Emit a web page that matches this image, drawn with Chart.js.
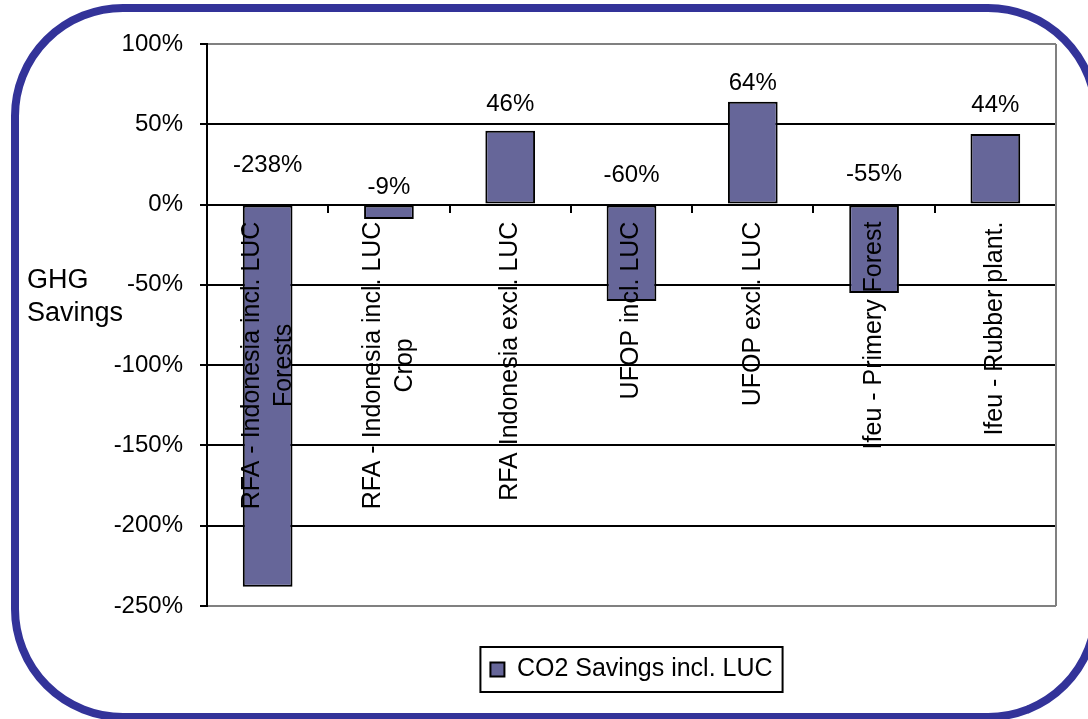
<!DOCTYPE html>
<html>
<head>
<meta charset="utf-8">
<script src="https://cdn.jsdelivr.net/npm/chart.js@4"></script>
<style>
  html, body { margin: 0; padding: 0; background: #fff; overflow: hidden; }
  #wrap { position: relative; width: 1088px; height: 719px; }
  #frame {
    position: absolute; left: 11px; top: 4px; width: 1089px; height: 717px;
    box-sizing: border-box; border: 8px solid #333399; border-radius: 112px;
    pointer-events: none;
  }
</style>
</head>
<body>
<div id="wrap">
  <canvas id="ghgChart"></canvas>
  <div id="frame"></div>
</div>
<script>
// Chart data
const categories = [
    ['RFA - Indonesia incl. LUC', 'Forests'],
    ['RFA - Indonesia incl. LUC', 'Crop'],
    'RFA Indonesia excl. LUC',
    'UFOP incl. LUC',
    'UFOP excl. LUC',
    'Ifeu - Primery Forest',
    'Ifeu - Rubber plant.'
];
const savings = [-238, -9, 46, -60, 64, -55, 44];
const yTicks = [100, 50, 0, -50, -100, -150, -200, -250];
const seriesName = 'CO2 Savings incl. LUC';
const axisTitle = ['GHG', 'Savings'];

const FONT = '"Liberation Sans", Arial, sans-serif';
Chart.defaults.font.family = FONT;
Chart.defaults.color = '#000';

// Category names written downwards from the zero line, inside the plot
const categoryLabels = {
    id: 'categoryLabels',
    afterDatasetsDraw(chart) {
        const { ctx, scales: { x, y } } = chart;
        const top = y.getPixelForValue(0) + 17;
        const lineH = 32;
        ctx.save();
        ctx.font = '25px ' + FONT;
        ctx.fillStyle = '#000';
        ctx.textAlign = 'center';
        ctx.textBaseline = 'middle';
        categories.forEach((label, i) => {
            const lines = Array.isArray(label) ? label : [label];
            const w = Math.max(...lines.map(l => ctx.measureText(l).width));
            const cx = x.getPixelForValue(i);
            lines.forEach((line, j) => {
                ctx.save();
                ctx.translate(cx + (j - (lines.length - 1) / 2) * lineH, top + w / 2);
                ctx.rotate(-Math.PI / 2);
                ctx.fillText(line, 0, 0);
                ctx.restore();
            });
        });
        ctx.restore();
    }
};

// Percent labels above the bars (negative ones sit above the zero line)
const valueLabels = {
    id: 'valueLabels',
    afterDatasetsDraw(chart, args, opts) {
        const { ctx } = chart;
        const zero = chart.scales.y.getPixelForValue(0);
        ctx.save();
        ctx.font = '24px ' + FONT;
        ctx.fillStyle = '#000';
        ctx.textAlign = 'center';
        ctx.textBaseline = 'middle';
        chart.getDatasetMeta(0).data.forEach((bar, i) => {
            const v = savings[i];
            const base = v >= 0 ? bar.y : zero;
            ctx.fillText(v + '%', bar.x, base - opts.lift[i]);
        });
        ctx.restore();
    }
};

// Gray right edge of the plot, y title, legend box
const extras = {
    id: 'extras',
    beforeDatasetsDraw(chart) {
        const { ctx, chartArea: a } = chart;
        ctx.save();
        ctx.strokeStyle = '#808080';
        ctx.lineWidth = 2;
        ctx.beginPath();
        ctx.moveTo(a.right, a.top);
        ctx.lineTo(a.right, a.bottom);
        ctx.stroke();
        ctx.restore();
    },
    afterDraw(chart) {
        const { ctx } = chart;
        ctx.save();
        ctx.font = '27px ' + FONT;
        ctx.fillStyle = '#000';
        ctx.textAlign = 'left';
        ctx.textBaseline = 'alphabetic';
        ctx.fillText(axisTitle[0], 27, 288);
        ctx.fillText(axisTitle[1], 27, 321);

        const hb = chart.legend.legendHitBoxes[0];
        if (hb) {
            const cy = hb.top + hb.height / 2;
            ctx.strokeStyle = '#000';
            ctx.lineWidth = 2;
            ctx.strokeRect(hb.left - 10, cy - 22.5, hb.width + 20, 45);
        }
        ctx.restore();
    }
};

const ctx = document.getElementById('ghgChart').getContext('2d');

new Chart(ctx, {
    type: 'bar',
    data: {
        labels: categories,
        datasets: [{
            label: seriesName,
            data: savings,
            backgroundColor: '#666699',
            borderColor: '#000',
            borderWidth: 2,
            borderSkipped: false,
            barPercentage: 0.41,
            categoryPercentage: 1
        }]
    },
    options: {
        responsive: true,
        maintainAspectRatio: false,
        animation: false,
        layout: {
            padding: { top: 44, right: 32, bottom: 27, left: 0 }
        },
        scales: {
            x: {
                position: { y: 0 },
                ticks: { display: false },
                grid: {
                    drawOnChartArea: false,
                    drawTicks: true,
                    tickLength: 7,
                    color: '#000',
                    lineWidth: 2
                },
                border: { color: '#000', width: 2 }
            },
            y: {
                min: -250,
                max: 100,
                afterFit: (scale) => { scale.width = 207; },
                afterBuildTicks: (scale) => {
                    scale.ticks = yTicks.map(v => ({ value: v }));
                },
                ticks: {
                    padding: 17,
                    font: { size: 24 },
                    color: '#000',
                    callback: (v) => v + '%'
                },
                grid: {
                    color: (c) => (c.tick && (c.tick.value === 100 || c.tick.value === -250)) ? '#808080' : '#000',
                    tickColor: '#000',
                    tickLength: 7,
                    lineWidth: 2
                },
                border: { color: '#000', width: 2 }
            }
        },
        plugins: {
            legend: {
                position: 'bottom',
                fullSize: false,
                labels: {
                    boxWidth: 14,
                    boxHeight: 14,
                    padding: 51,
                    color: '#000',
                    font: { size: 25 }
                }
            },
            tooltip: { enabled: false },
            valueLabels: { lift: [39, 17, 26, 29, 18, 30, 29] }
        }
    },
    plugins: [categoryLabels, valueLabels, extras]
});
</script>
</body>
</html>
